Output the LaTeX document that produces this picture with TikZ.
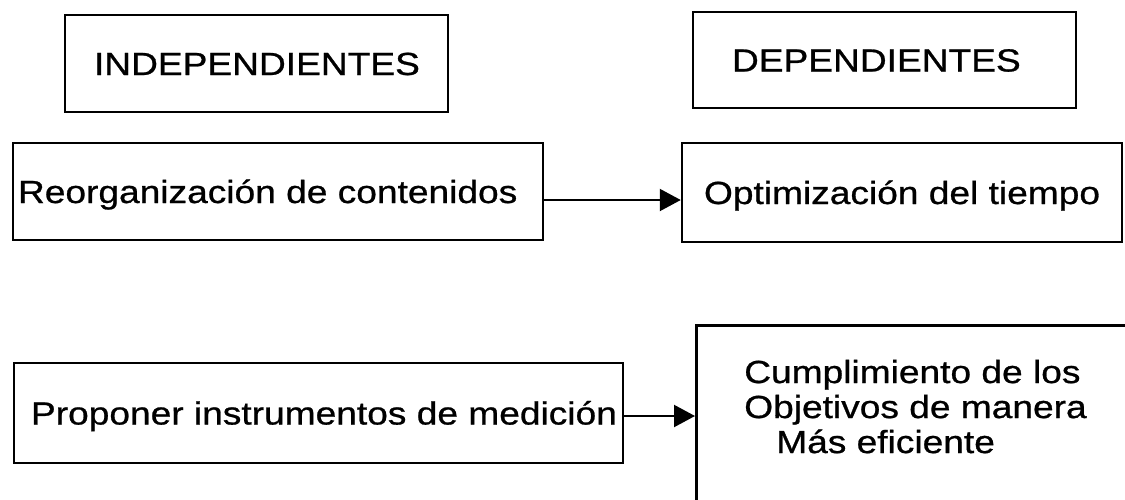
\documentclass[tikz,border=0pt]{standalone}
\usepackage{fontspec}
\setmainfont{Liberation Sans}[FakeStretch=1.16,FakeBold=0.8]
\usetikzlibrary{arrows.meta}
\newcommand{\boxtext}[3]{\makebox[#1][l]{\hspace*{#2}#3}}
\begin{document}
\begin{tikzpicture}[x=1pt,y=-1pt,
  basebox/.style={draw=black, line width=2.5pt, inner sep=0pt, font=\fontsize{32}{35}\selectfont},
  single/.style={basebox, text height=23pt, text depth=0pt},
  arr/.style={line width=2.2pt, -{Triangle[length=21pt,width=22pt]}}]
\useasboundingbox (0,0) rectangle (1125,499);
\clip (0,0) rectangle (1125,499);
\node[single, minimum height=97pt] (ind) at (256.5,63.5) {\boxtext{383pt}{29pt}{INDEPENDIENTES}};
\node[single, minimum height=96pt] (dep) at (884.5,60) {\boxtext{383pt}{39pt}{DEPENDIENTES}};
\node[single, minimum height=97pt] (reo) at (278,191.5) {\boxtext{530pt}{5pt}{Reorganización de contenidos}};
\node[single, minimum height=99pt] (opt) at (902,192.5) {\boxtext{440pt}{22pt}{Optimización del tiempo}};
\node[single, minimum height=100pt] (pro) at (318.5,413) {\boxtext{609pt}{17pt}{Proponer instrumentos de medición}};
\node[basebox, anchor=north west, inner xsep=0pt, inner ysep=34.6pt] (cum) at (695,324)
  {\parbox[t][220pt][t]{460pt}{\raggedright\setlength\leftskip{48pt}Cumplimiento de los\\Objetivos de manera\\\hspace*{32pt}Más eficiente}};
\draw[arr] ([yshift=-8.5pt]reo.east) -- ([yshift=-8.5pt]reo.east -| opt.west);
\draw[arr] ([yshift=-3pt]pro.east) -- ([yshift=-3pt]pro.east -| cum.west);
\end{tikzpicture}
\end{document}
